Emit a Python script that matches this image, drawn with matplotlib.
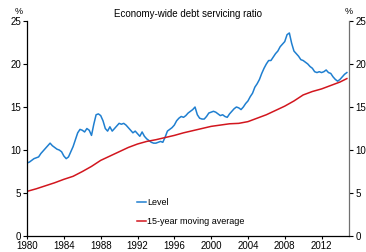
import numpy as np
import matplotlib.pyplot as plt

plt.rcParams['font.family'] = ['Liberation Sans', 'DejaVu Sans']

# quarterly level, 1980 Q1 .. 2014 Q4 (%)
level = [
    8.5, 8.6, 8.8, 9.0,
    9.1, 9.2, 9.6, 9.9,
    10.2, 10.5, 10.8, 10.5,
    10.3, 10.1, 10.0, 9.8,
    9.3, 9.0, 9.2, 9.8,
    10.4, 11.2, 12.0, 12.4,
    12.3, 12.1, 12.5, 12.3,
    11.7, 13.0, 14.1, 14.2,
    14.0, 13.4, 12.5, 12.2,
    12.7, 12.2, 12.5, 12.8,
    13.1, 13.0, 13.1, 12.9,
    12.6, 12.3, 12.0, 12.2,
    11.9, 11.6, 12.1, 11.6,
    11.3, 11.1, 10.9, 10.8,
    10.8, 10.9, 11.0, 10.9,
    11.5, 12.2, 12.4, 12.6,
    12.9, 13.4, 13.7, 13.9,
    13.8, 14.0, 14.3, 14.5,
    14.7, 15.0, 14.1, 13.7,
    13.6, 13.6, 13.9, 14.3,
    14.4, 14.5, 14.4, 14.2,
    14.0, 14.1, 13.9, 13.8,
    14.2, 14.5, 14.8, 15.0,
    14.9, 14.7, 15.0, 15.4,
    15.7, 16.2, 16.6, 17.3,
    17.7, 18.2, 18.9, 19.5,
    20.0, 20.4, 20.4, 20.8,
    21.2, 21.5, 22.0, 22.3,
    22.6, 23.4, 23.6, 22.4,
    21.5, 21.2, 20.9, 20.5,
    20.4, 20.2, 20.0, 19.7,
    19.5, 19.1, 19.0, 19.1,
    19.0, 19.1, 19.3, 19.0,
    18.9, 18.5, 18.2, 18.0,
    18.2, 18.5, 18.8, 19.0,
]
level_dates = 1980 + np.arange(len(level)) * 0.25

# 15-year moving average, annual readings
ma_dates = [1980, 1981, 1982, 1983, 1984, 1985, 1986, 1987, 1988, 1989,
            1990, 1991, 1992, 1993, 1994, 1995, 1996, 1997, 1998, 1999,
            2000, 2001, 2002, 2003, 2004, 2005, 2006, 2007, 2008, 2009,
            2010, 2011, 2012, 2013, 2014, 2014.75]
moving_avg = [5.2, 5.5, 5.85, 6.2, 6.6, 6.95, 7.5, 8.1, 8.8, 9.3,
              9.8, 10.3, 10.7, 11.0, 11.2, 11.45, 11.7, 12.0, 12.25, 12.5,
              12.75, 12.9, 13.05, 13.1, 13.3, 13.7, 14.1, 14.6, 15.1, 15.7,
              16.4, 16.8, 17.1, 17.5, 17.9, 18.3]

xticks = [1980, 1984, 1988, 1992, 1996, 2000, 2004, 2008, 2012]
yticks = [0, 5, 10, 15, 20, 25]

fig = plt.figure(figsize=(3.66, 2.52), dpi=100)
ax = fig.add_axes([0.074, 0.063, 0.880, 0.854])

ax.plot(level_dates, level, color='#1f7fd0', lw=1.1, label='Level')
ax.plot(ma_dates, moving_avg, color='#d2161e', lw=1.1, label='15-year moving average')

ax.set_xlim(1980, 2015)
ax.set_ylim(0, 25)
ax.set_xticks(xticks)
ax.set_yticks(yticks)
ax.tick_params(labelsize=7, length=3, width=0.8, pad=1.5)
ax.tick_params(axis='y', which='both', left=True, right=True,
               labelleft=True, labelright=True)
ax.tick_params(axis='x', length=2)

ax.spines['top'].set_visible(False)
ax.spines['right'].set_color('#707070')
ax.spines['left'].set_linewidth(0.9)
ax.spines['bottom'].set_linewidth(0.9)
ax.spines['right'].set_linewidth(0.9)

ax.text(-0.025, 1.025, '%', transform=ax.transAxes, fontsize=6.5, ha='center', va='bottom')
ax.text(1.0, 1.025, '%', transform=ax.transAxes, fontsize=6.5, ha='center', va='bottom')
fig.text(0.513, 0.945, 'Economy-wide debt servicing ratio', fontsize=7, ha='center', va='center')

ax.legend(loc='lower left', bbox_to_anchor=(0.33, 0.03), frameon=False,
          fontsize=6.5, handlelength=1.0, handletextpad=0.1, labelspacing=1.1,
          borderaxespad=0)

fig.savefig('out.png', dpi=100)
